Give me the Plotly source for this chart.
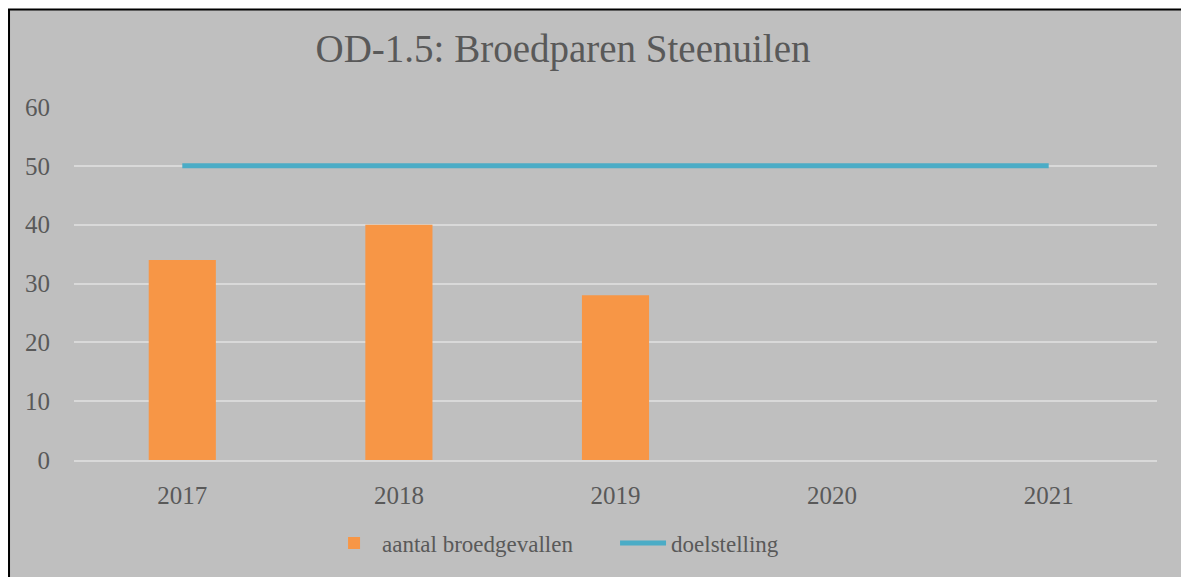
import plotly.graph_objects as go

years = ["2017", "2018", "2019", "2020", "2021"]
broedgevallen = [34, 40, 28, None, None]
doelstelling = [50, 50, 50, 50, 50]

font_family = "Liberation Serif, serif"
text_color = "#595959"

fig = go.Figure()

fig.add_trace(
    go.Bar(
        x=years,
        y=broedgevallen,
        name="aantal broedgevallen",
        marker=dict(color="#f79646", line=dict(width=0)),
    )
)

fig.add_trace(
    go.Scatter(
        x=years,
        y=doelstelling,
        mode="lines",
        name="doelstelling",
        line=dict(color="#4bacc6", width=5),
    )
)

# grey chart area with black frame
fig.add_shape(
    type="rect",
    xref="paper",
    yref="paper",
    x0=-0.0600,
    x1=1.0350,
    y0=-0.40,
    y1=1.2760,
    fillcolor="#bfbfbf",
    line=dict(color="#000000", width=2),
    layer="below",
)

# page body adds an 8px offset, so the figure is 8px smaller
fig.update_layout(
    width=1181,
    height=569,
    margin=dict(l=66, r=32, t=99, b=115),
    paper_bgcolor="#ffffff",
    plot_bgcolor="rgba(0,0,0,0)",
    font=dict(family=font_family, color=text_color, size=25),
    title=dict(
        text="OD-1.5: Broedparen Steenuilen",
        x=555 / 1181,
        xanchor="center",
        y=1 - 40 / 569,
        yanchor="middle",
        font=dict(size=39, color=text_color, family=font_family),
    ),
    bargap=0.69,
    showlegend=True,
    legend=dict(
        orientation="h",
        x=590 / 1181,
        xanchor="center",
        y=-0.235,
        yanchor="middle",
        bgcolor="rgba(0,0,0,0)",
        itemwidth=46,
        entrywidth=228,
        entrywidthmode="pixels",
        font=dict(size=23, color=text_color, family=font_family),
    ),
    xaxis=dict(
        type="category",
        showgrid=False,
        showline=True,
        linecolor="#d9d9d9",
        linewidth=2,
        ticks="outside",
        ticklen=12,
        tickcolor="rgba(0,0,0,0)",
        zeroline=False,
        tickfont=dict(size=25),
    ),
    yaxis=dict(
        range=[0, 60],
        dtick=10,
        showgrid=True,
        gridcolor="#d9d9d9",
        gridwidth=2,
        zeroline=False,
        showline=False,
        ticks="outside",
        ticklen=18,
        tickcolor="rgba(0,0,0,0)",
        tickfont=dict(size=25),
    ),
)

fig.write_html("out.html")
